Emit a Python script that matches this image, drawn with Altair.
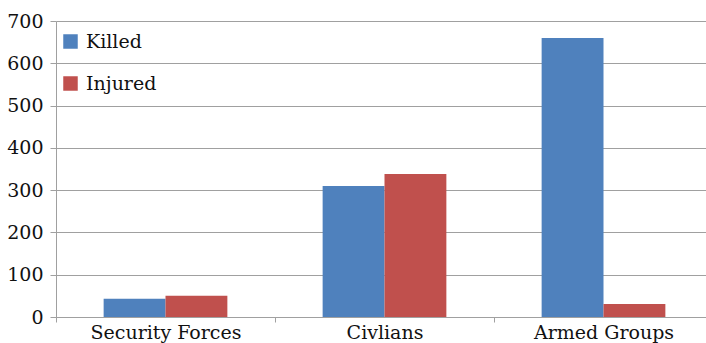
import altair as alt
import pandas as pd

categories = ["Security Forces", "Civlians", "Armed Groups"]
killed = [43, 310, 660]
injured = [50, 338, 31]
series = ["Killed", "Injured"]
colors = ["#4F81BD", "#C0504D"]

rows = []
for c, k, i in zip(categories, killed, injured):
    rows.append({"cat": c, "series": "Killed", "value": k})
    rows.append({"cat": c, "series": "Injured", "value": i})
df = pd.DataFrame(rows)

font = "DejaVu Serif"

chart = alt.Chart(df).mark_bar().encode(
    x=alt.X("cat:N", sort=categories, title=None,
            scale=alt.Scale(paddingInner=0, paddingOuter=0, range=[0, 657]),
            axis=alt.Axis(labelAngle=0, tickBand="extent", grid=False,
                          labelFont=font, labelFontSize=19, labelColor="#111",
                          domainColor="#a0a0a0", tickColor="#a0a0a0",
                          tickSize=5, labelPadding=1)),
    xOffset=alt.XOffset("series:N", sort=series,
                        scale=alt.Scale(paddingInner=0, paddingOuter=0.77)),
    y=alt.Y("value:Q", title=None,
            scale=alt.Scale(domain=[0, 700], nice=False),
            axis=alt.Axis(values=list(range(0, 701, 100)), grid=True,
                          gridColor="#a0a0a0", domainColor="#a0a0a0",
                          tickColor="#a0a0a0", tickSize=6, labelPadding=7,
                          labelFont=font, labelFontSize=19, labelColor="#111")),
    color=alt.Color("series:N", sort=series,
                    scale=alt.Scale(domain=series, range=colors),
                    legend=alt.Legend(title=None, orient="none", legendX=5, legendY=11,
                                      symbolType="square", symbolSize=210,
                                      symbolStrokeWidth=0, labelFont=font,
                                      labelFontSize=19, labelColor="#111",
                                      rowPadding=22, labelOffset=6)),
).properties(
    width=650, height=296,
    autosize=alt.AutoSizeParams(type="none"),
    padding={"left": 56, "top": 21, "right": 0, "bottom": 26},
).configure_view(stroke=None)

chart.save("out.html", embed_options={"renderer": "svg", "actions": False})
